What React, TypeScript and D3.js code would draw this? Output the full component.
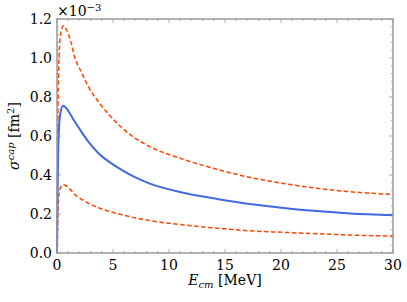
import React from 'react';
import * as d3 from 'd3';

// energies in MeV, cross sections in units of 1e-3 fm^2
const energy = [0, 0.05, 0.1, 0.2, 0.35, 0.55, 0.8, 1.2, 1.6, 2.2, 2.8, 3.7, 4.6, 5.8, 7.0, 8.3, 11.3, 14.3, 17.2, 20.2, 23.2, 26.2, 30];
const sigmaCentral = [0, 0.3, 0.5, 0.66, 0.73, 0.755, 0.745, 0.71, 0.673, 0.62, 0.571, 0.512, 0.47, 0.425, 0.388, 0.356, 0.309, 0.277, 0.251, 0.231, 0.215, 0.203, 0.194];
const sigmaUpper = [0, 0.5, 0.8, 1.03, 1.13, 1.165, 1.15, 1.09, 1.0, 0.925, 0.853, 0.775, 0.712, 0.642, 0.588, 0.545, 0.48, 0.429, 0.388, 0.357, 0.332, 0.314, 0.3];
const sigmaLower = [0, 0.14, 0.24, 0.31, 0.34, 0.35, 0.345, 0.325, 0.3, 0.275, 0.255, 0.232, 0.215, 0.196, 0.18, 0.166, 0.144, 0.127, 0.114, 0.106, 0.099, 0.092, 0.087];

const xTicks = [0, 5, 10, 15, 20, 25, 30];
const yTicks = [0, 0.2, 0.4, 0.6, 0.8, 1.0, 1.2];

const width = 407;
const height = 302;
const margin = { top: 19, right: 14, bottom: 49, left: 57 };
const font = '"DejaVu Serif", serif';
const axisColor = '#999';

const App: React.FC = () => {
  const x = d3.scaleLinear().domain([0, 30]).range([margin.left, width - margin.right]);
  const y = d3.scaleLinear().domain([0, 1.2]).range([height - margin.bottom, margin.top]);

  const line = d3.line<number>()
    .x((_, i) => x(energy[i]))
    .y(d => y(d))
    .curve(d3.curveMonotoneX);

  const xMinor = d3.range(0, 31, 1);
  const yMinor = d3.range(0, 1.2001, 0.04);
  const x0 = x(0), x1 = x(30), y0 = y(0), y1 = y(1.2);

  return (
    <svg width={width} height={height} style={{ position: 'absolute', left: 0, top: 0, background: '#fff' }}>
      {/* minor ticks, mirrored on all sides */}
      {xMinor.map(v => (
        <g key={'xm' + v} stroke={axisColor} strokeWidth={0.8}>
          <line x1={x(v)} x2={x(v)} y1={y0} y2={y0 - (v % 5 === 0 ? 4 : 2)} />
          <line x1={x(v)} x2={x(v)} y1={y1} y2={y1 + (v % 5 === 0 ? 4 : 2)} />
        </g>
      ))}
      {yMinor.map((v, i) => (
        <g key={'ym' + i} stroke={axisColor} strokeWidth={0.8}>
          <line x1={x0} x2={x0 + (i % 5 === 0 ? 4 : 2)} y1={y(v)} y2={y(v)} />
          <line x1={x1} x2={x1 - (i % 5 === 0 ? 4 : 2)} y1={y(v)} y2={y(v)} />
        </g>
      ))}

      <path d={line(sigmaUpper) || ''} fill="none" stroke="#ff4500" strokeWidth={1.5} strokeDasharray="4.5,2.5" />
      <path d={line(sigmaLower) || ''} fill="none" stroke="#ff4500" strokeWidth={1.5} strokeDasharray="4.5,2.5" />
      <path d={line(sigmaCentral) || ''} fill="none" stroke="#4169e1" strokeWidth={2} />

      <rect x={x0} y={y1} width={x1 - x0} height={y0 - y1} fill="none" stroke={axisColor} strokeWidth={1.5} />

      {xTicks.map(v => (
        <text key={'xt' + v} x={x(v)} y={y0 + 17} textAnchor="middle" fontFamily={font} fontSize={14} fill="#000">{v}</text>
      ))}
      {yTicks.map(v => (
        <text key={'yt' + v} x={x0 - 5} y={y(v)} dy="0.36em" textAnchor="end" fontFamily={font} fontSize={14} fill="#000">{v.toFixed(1)}</text>
      ))}

      <text x={x0} y={16} fontFamily={font} fontSize={14} fill="#000">
        ×10<tspan dy={-5} fontSize={10}>−3</tspan>
      </text>

      <text x={(x0 + x1) / 2} y={285} textAnchor="middle" fontFamily={font} fontSize={14} fill="#000">
        <tspan fontStyle="italic">E</tspan>
        <tspan fontStyle="italic" fontSize={10} dy={3}>cm</tspan>
        <tspan dy={-3}> [MeV]</tspan>
      </text>

      <text transform={`translate(19,${(y0 + y1) / 2}) rotate(-90)`} textAnchor="middle" fontFamily={font} fontSize={14} fill="#000">
        <tspan fontStyle="italic">σ</tspan>
        <tspan fontStyle="italic" fontSize={10} dy={-5}>cap</tspan>
        <tspan dy={5}> [fm</tspan>
        <tspan fontSize={10} dy={-5}>2</tspan>
        <tspan dy={5}>]</tspan>
      </text>
    </svg>
  );
};

export default App;
